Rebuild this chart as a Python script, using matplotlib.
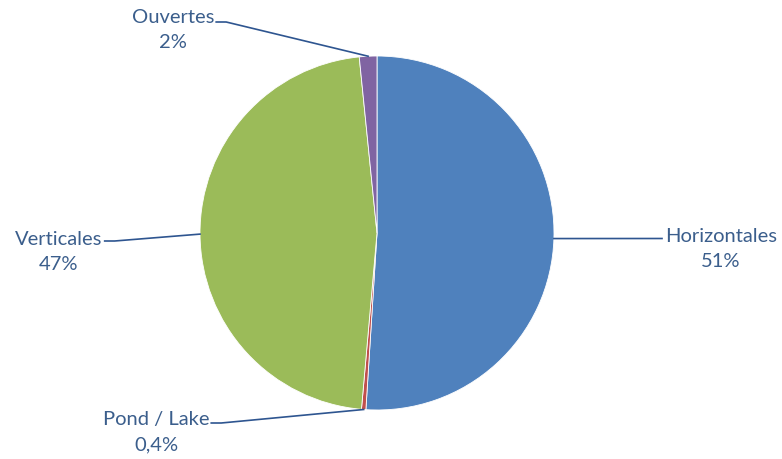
import numpy as np
import matplotlib
matplotlib.use("Agg")
import matplotlib.pyplot as plt

# data, clockwise from 12 o'clock
labels = ["Horizontales", "Pond / Lake", "Verticales", "Ouvertes"]
values = [51.0, 0.4, 47.0, 1.6]
pct_text = ["51%", "0,4%", "47%", "2%"]
colors = ["#4F81BD", "#C0504D", "#9BBB59", "#8064A2"]

W, H = 782, 459
cx, cy, r = 377, H - 233, 177

# label block centres (pixels, y from top) and which side the leader attaches
label_pos = [(721, 249), (156, 432), (59, 252), (173, 30)]
attach = [(-1, 10.5), (1, 9), (1, 11), (1, 8)]   # (side, y offset of leader)

txt_color = "#3B5E8C"
line_color = "#2E5590"

fig = plt.figure(figsize=(W / 100, H / 100), dpi=100)
ax = fig.add_axes([0, 0, 1, 1])

ax.pie(values, colors=colors, startangle=90, counterclock=False,
       center=(cx, cy), radius=r, frame=True,
       wedgeprops=dict(edgecolor="white", linewidth=0.6))
ax.set_xlim(0, W)
ax.set_ylim(0, H)
ax.set_aspect("equal")
ax.axis("off")

fracs = np.array(values) / sum(values)
mids = np.cumsum(fracs) - fracs / 2
for i, lab in enumerate(labels):
    ang = np.deg2rad(90 - 360 * mids[i])
    px, py = cx + r * np.cos(ang), cy + r * np.sin(ang)
    lx, ly = label_pos[i]
    t = ax.text(lx, H - ly, lab + "\n" + pct_text[i], ha="center", va="center",
                fontsize=14.5, color=txt_color, family="Lato", linespacing=1.6)
    fig.canvas.draw()
    bb = t.get_window_extent()
    side, dy = attach[i]
    if side > 0:
        x0 = bb.x1 + 2
        x1 = x0 + 10
    else:
        x0 = bb.x0 - 3
        x1 = x0
    y0 = H - (ly - dy)
    ax.plot([x0, x1, px], [y0, y0, py], color=line_color, lw=1.2)

fig.savefig("out.png", dpi=100, facecolor="white")
